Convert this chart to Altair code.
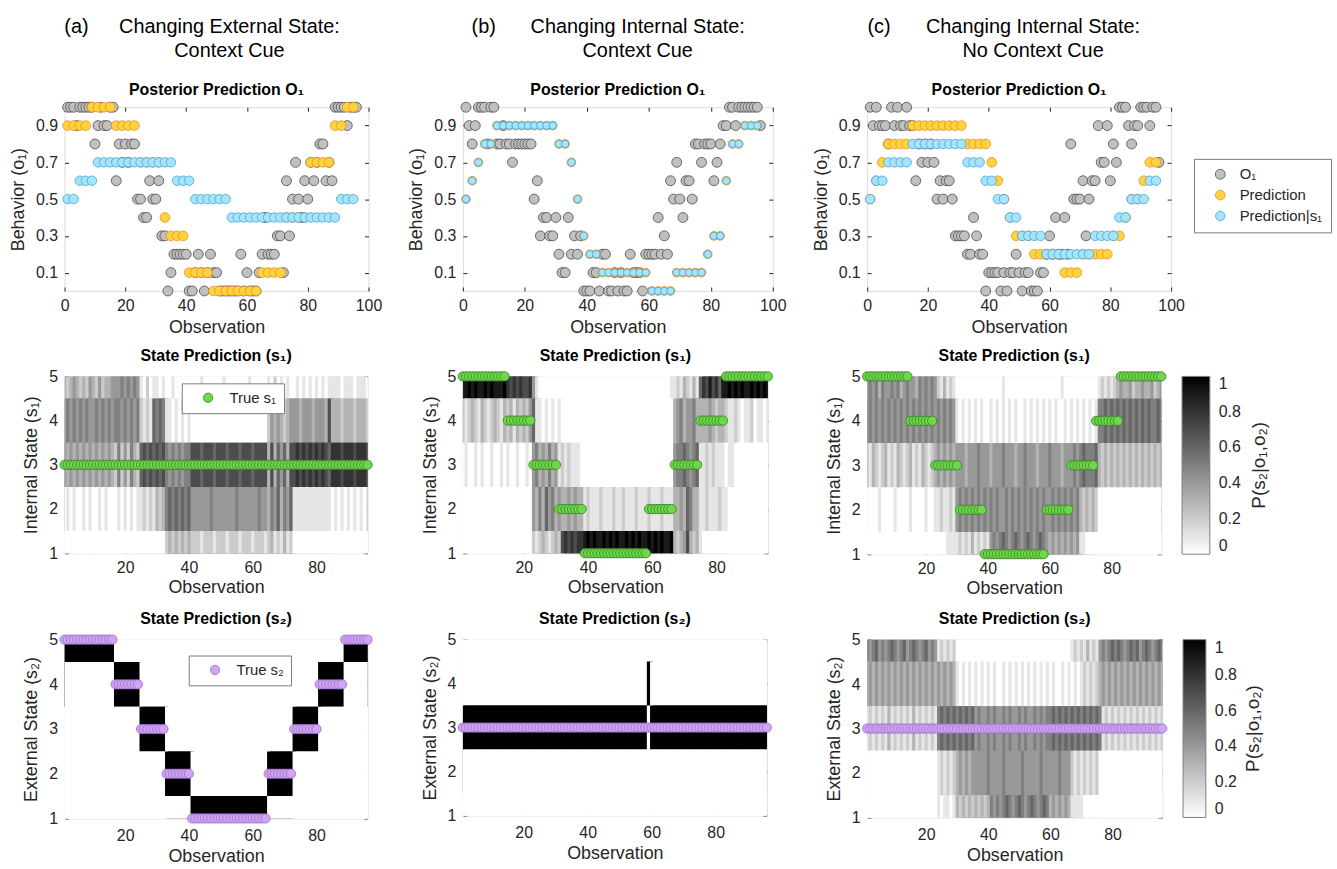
import altair as alt
import pandas as pd

FONT = "Liberation Sans"
INK = "#262626"

OBS = list(range(1, 97))
ODD = list(range(1, 97, 2))

# ---------------- top row: observed behaviour and predictions ----------------
a_o1 = [1.0, 1.0, 1.0, 0.9, 1.0, 1.0, 1.0, 1.0, 1.0, 0.8,
        0.9, 1.0, 0.9, 0.9, 1.0, 1.0, 0.6, 0.8, 0.7, 0.8,
        0.7, 0.8, 0.8, 0.5, 0.5, 0.4, 0.4, 0.6, 0.5, 0.5,
        0.6, 0.3, 0.3, 0.0, 0.1, 0.2, 0.2, 0.2, 0.2, 0.2,
        0.0, 0.0, 0.1, 0.2, 0.1, 0.0, 0.1, 0.2, 0.1, 0.1,
        0.0, 0.0, 0.0, 0.0, 0.0, 0.0, 0.0, 0.2, 0.0, 0.1,
        0.0, 0.0, 0.0, 0.1, 0.2, 0.4, 0.2, 0.2, 0.2, 0.3,
        0.3, 0.1, 0.6, 0.3, 0.5, 0.7, 0.5, 0.4, 0.6, 0.5,
        0.7, 0.6, 0.7, 0.8, 0.8, 0.6, 0.7, 0.6, 1.0, 1.0,
        1.0, 1.0, 0.9, 1.0, 1.0, 1.0]
a_pred = [0.9, 0.9, 0.9, 0.9, 1.0, 1.0, 1.0, 1.0, 0.9, 0.9, 0.9, 0.9,
          0.7, 0.7, 0.7, 0.7, 0.4, 0.3, 0.3, 0.3, 0.1, 0.1, 0.1, 0.1,
          0.0, 0.0, 0.0, 0.0, 0.0, 0.0, 0.0, 0.0, 0.1, 0.1, 0.1, 0.1,
          0.4, 0.4, 0.4, 0.4, 0.7, 0.7, 0.7, 0.7, 0.9, 0.9, 1.0, 1.0]
a_pred_s1 = [0.5, 0.5, 0.6, 0.6, 0.6, 0.7, 0.7, 0.7, 0.7, 0.7, 0.7, 0.7,
             0.7, 0.7, 0.7, 0.7, 0.7, 0.7, 0.6, 0.6, 0.6, 0.5, 0.5, 0.5,
             0.5, 0.5, 0.5, 0.4, 0.4, 0.4, 0.4, 0.4, 0.4, 0.4, 0.4, 0.4,
             0.4, 0.4, 0.4, 0.4, 0.4, 0.4, 0.4, 0.4, 0.4, 0.5, 0.5, 0.5]

b_o1 = [1.0, 0.9, 0.8, 0.9, 1.0, 1.0, 1.0, 0.8, 1.0, 1.0,
        0.8, 0.8, 0.9, 0.8, 0.8, 0.7, 0.8, 0.8, 0.8, 0.8,
        0.8, 0.8, 0.5, 0.6, 0.3, 0.4, 0.4, 0.3, 0.3, 0.4,
        0.2, 0.1, 0.1, 0.4, 0.2, 0.3, 0.2, 0.3, 0.0, 0.0,
        0.0, 0.1, 0.1, 0.0, 0.2, 0.2, 0.0, 0.0, 0.1, 0.0,
        0.1, 0.0, 0.0, 0.2, 0.1, 0.1, 0.1, 0.0, 0.2, 0.2,
        0.2, 0.2, 0.4, 0.2, 0.3, 0.2, 0.6, 0.5, 0.7, 0.5,
        0.4, 0.6, 0.6, 0.5, 0.8, 0.8, 0.7, 0.8, 0.8, 0.8,
        0.6, 0.7, 0.8, 0.9, 0.9, 1.0, 1.0, 0.9, 1.0, 1.0,
        1.0, 1.0, 1.0, 1.0, 1.0, 0.9]
b_pred = [0.5, 0.6, 0.7, 0.8, 0.8, 0.9, 0.9, 0.9, 0.9, 0.9, 0.9, 0.9,
          0.9, 0.9, 0.9, 0.8, 0.8, 0.7, 0.5, 0.3, 0.2, 0.2, 0.1, 0.1,
          0.1, 0.1, 0.1, 0.1, 0.1, 0.1, 0.0, 0.0, 0.0, 0.0, 0.1, 0.1,
          0.1, 0.1, 0.1, 0.2, 0.3, 0.3, 0.6, 0.8, 0.8, 0.9, 0.9, 0.9]
b_pred_s1 = [0.5, 0.6, 0.7, 0.8, 0.8, 0.9, 0.9, 0.9, 0.9, 0.9, 0.9, 0.9,
             0.9, 0.9, 0.9, 0.8, 0.8, 0.7, 0.5, 0.3, 0.2, 0.2, 0.1, 0.1,
             0.1, 0.1, 0.1, 0.1, 0.1, 0.1, 0.0, 0.0, 0.0, 0.0, 0.1, 0.1,
             0.1, 0.1, 0.1, 0.2, 0.3, 0.3, 0.6, 0.8, 0.8, 0.9, 0.9, 0.9]

c_o1 = [1.0, 0.9, 1.0, 0.9, 0.9, 0.9, 0.8, 1.0, 0.9, 1.0,
        0.9, 0.9, 1.0, 0.9, 0.9, 0.6, 0.8, 0.7, 0.8, 0.7,
        0.8, 0.7, 0.5, 0.6, 0.5, 0.6, 0.6, 0.5, 0.3, 0.3,
        0.3, 0.3, 0.2, 0.2, 0.4, 0.3, 0.2, 0.2, 0.0, 0.1,
        0.1, 0.1, 0.1, 0.0, 0.1, 0.0, 0.1, 0.1, 0.2, 0.1,
        0.0, 0.1, 0.1, 0.0, 0.0, 0.0, 0.1, 0.1, 0.2, 0.3,
        0.2, 0.4, 0.2, 0.2, 0.4, 0.2, 0.8, 0.5, 0.5, 0.5,
        0.6, 0.3, 0.5, 0.6, 0.6, 0.9, 0.7, 0.7, 0.9, 0.6,
        0.8, 0.7, 1.0, 1.0, 1.0, 0.9, 0.8, 0.9, 0.9, 1.0,
        1.0, 1.0, 0.9, 1.0, 1.0, 0.7]
c_pred = [0.5, 0.6, 0.7, 0.8, 0.8, 0.8, 0.8, 0.9, 0.9, 0.9, 0.9, 0.9,
          0.9, 0.9, 0.9, 0.9, 0.8, 0.8, 0.8, 0.8, 0.7, 0.6, 0.5, 0.4,
          0.3, 0.3, 0.3, 0.2, 0.2, 0.2, 0.2, 0.2, 0.1, 0.1, 0.1, 0.2,
          0.2, 0.2, 0.2, 0.2, 0.3, 0.3, 0.4, 0.5, 0.5, 0.6, 0.7, 0.7]
c_pred_s1 = [0.5, 0.6, 0.6, 0.7, 0.7, 0.7, 0.7, 0.8, 0.8, 0.8, 0.8, 0.8,
             0.8, 0.8, 0.8, 0.8, 0.7, 0.7, 0.7, 0.6, 0.6, 0.5, 0.5, 0.4,
             0.4, 0.3, 0.3, 0.3, 0.3, 0.2, 0.2, 0.2, 0.2, 0.2, 0.2, 0.2,
             0.2, 0.3, 0.3, 0.3, 0.3, 0.4, 0.4, 0.5, 0.5, 0.5, 0.6, 0.6]

# ---------------- true hidden states (run length, state) ----------------
a_true_s1_runs = [(96, 3)]
a_true_s2_runs = [(16, 5), (8, 4), (8, 3), (8, 2), (24, 1), (8, 2), (8, 3), (8, 4), (8, 5)]
bc_true_s1_runs = [(14, 5), (8, 4), (8, 3), (8, 2), (20, 1), (8, 2), (8, 3), (8, 4), (14, 5)]
bc_true_s2_runs = [(96, 3)]
b_s2_best_runs = [(58, 3), (1, 4), (37, 3)]

# ---------------- posterior heat maps: one char per observation, p x 10 ('a' = 1.0) ----------------
a_s1_heat = {
    5: ["3234323243242334", "44545454", "10201101", "00100000", "0001000000", "1000000010", "0000",
        "10201010", "01010101010", "1", "111011101110"],
    4: ["4545454544545454", "55454545", "21216565", "11010101", "0000000000", "0000000000", "0000",
        "24343234", "44344434443", "7", "333233323332"],
    3: ["4343434343434343", "25242532", "67676767", "54545455", "7776777677", "7677767776", "7777",
        "37364637", "78787878787", "6", "888788878887"],
    2: ["0101001010010100", "01010101", "12121323", "56565656", "4444445444", "4444544444", "4544",
        "35463546", "11111111111", "1", "010101010101"],
    1: ["0000000000000000", "00000000", "00000000", "23232323", "2221222122", "2122212221", "2221",
        "23121312", "00000000000", "0", "000000000000"],
}
b_s1_heat = {
    5: ["99a9a99a9a999a", "87878778", "4", "1000000000", "0000000000", "0000000000", "0000000000", "001",
        "12132131", "68797869", "9a9a9a99a9a9a9"],
    4: ["21232132123213", "23132324", "6", "11010101", "0000000000", "0000000000", "0000000000", "00000",
        "34534453", "33343233", "21121011201101"],
    3: ["0100101001", "0010100100", "10", "45343534", "1212111", "0000000000", "0000000000", "000000000",
        "45565456", "11212111011", "00000000000"],
    2: ["0000000000", "0000000000", "00", "435364534", "3343433", "1211121112", "1121112111", "21112111",
        "33436533", "112111211", "0000000000", "000"],
    1: ["0000000000", "0000000000", "00", "212321232", "7878788", "9a9a99a9a9", "a99a9a9a99", "a9a9a99a",
        "32347323", "1000000000", "0000000000", "00"],
}
c_s1_heat = {
    5: ["4545354454", "5345443545", "454", "213121", "0000000000", "0000010000", "0000000000", "0000100000",
        "000000", "121212", "3433423343", "34234"],
    4: ["4545454545", "4545454545", "454545454", "1010101010", "0101010101", "0010101010", "1010010101",
        "010101", "5565656565", "6565656556", "5"],
    3: ["2132123121", "3212312132", "12", "3434343", "4443444544", "4344454443", "4454443444", "5444344454",
        "565556", "3232323232", "3232323232", "3"],
    2: ["0000100001", "0000100001", "00", "1121121", "4545454545", "4545445454", "5454545454", "4545454545",
        "323232", "0000000000", "0000000000", "0"],
    1: ["0000000000", "0000000000", "000000111", "12121312121", "4545654565", "456545654", "3434343434",
        "1100000000", "0000000000", "0000000"],
}
c_s2_heat = {
    5: ["5456454565", "4564565456", "454", "121212", "0000000000", "0000000000", "0000000000", "0000000",
        "121213121", "4545656545", "6564565456", "5"],
    4: ["3434343434", "3434343434", "343434343", "1010101010", "1010010101", "0101010101", "0100101010",
        "1", "21212", "3434343434", "3434343434", "3"],
    3: ["1212121312", "1212131212", "121", "5656565656", "56", "4544545445", "4544545445", "4545",
        "5656565656", "5656565", "1212121212", "1212121212"],
    2: ["0000000000", "0000000000", "000", "121212", "343434", "4444544445", "4444454444", "4544444544",
        "4", "212121212", "0000000000", "0000000000", "0"],
    1: ["0000000000", "0000000000", "000", "101101", "3232323232", "3", "5454565456", "545654565",
        "3434343", "1111000000", "0000000000", "0000000000"],
}

SERIES = ["O₁", "Prediction", "Prediction|s₁"]
FILLS = ["#c0c0c0", "#ffd43b", "#a9e3f9"]
EDGES = ["#4a4a4a", "#ec8c2c", "#3aa8e0"]
GREEN, GREEN_EDGE = "#6cd94a", "#3f7a2e"
PURPLE, PURPLE_EDGE = "#cfa5f2", "#9a6cc9"
CBAR_TITLE = "P(s₂|o₁,o₂)"

INDEP = dict(x="independent", y="independent", color="independent", fill="independent",
             stroke="independent", size="independent")


def expand(runs):
    out = []
    for n, s in runs:
        out.extend([s] * n)
    return out


def heat_rows(spec):
    rows = {}
    for k, segs in spec.items():
        s = "".join(segs)
        assert len(s) == 96, (k, len(s))
        rows[k] = [int(c, 16) / 10 for c in s]
    return rows


def onehot(states):
    return {k: [1.0 if s == k else 0.0 for s in states] for k in (5, 4, 3, 2, 1)}


def axis(orient, values, title=None, labels=True, fmt=None, label_pad=6, title_pad=4):
    kw = dict(orient=orient, values=values, offset=-4, tickSize=4, tickWidth=1, tickColor=INK,
              domain=False, grid=False, labels=labels, labelColor=INK, labelFontSize=16, labelFont=FONT,
              labelPadding=label_pad, labelFlush=False, titleColor=INK, titleFontSize=18, titleFont=FONT,
              titleFontWeight="normal", titlePadding=title_pad, title=title)
    if fmt:
        kw["format"] = fmt
    return alt.Axis(**kw)


def top_panel(o1, pred, pred_s1, sizes, width, tag, tag_x, header, head_x, legend=None):
    df = pd.DataFrame(
        [{"obs": i, "val": v, "series": SERIES[0]} for i, v in zip(OBS, o1)]
        + [{"obs": i, "val": v, "series": SERIES[1]} for i, v in zip(ODD, pred)]
        + [{"obs": i, "val": v, "series": SERIES[2]} for i, v in zip(ODD, pred_s1)]
    )
    xs = alt.Scale(domain=[0, 100], nice=False, zero=False)
    ys = alt.Scale(domain=[0, 1], nice=False, zero=False)
    pts = alt.Chart(df).mark_circle(opacity=1, strokeWidth=0.8).encode(
        x=alt.X("obs:Q", scale=xs, axis=axis("bottom", [0, 20, 40, 60, 80, 100], "Observation",
                                             label_pad=7, title_pad=5)),
        y=alt.Y("val:Q", scale=ys,
                axis=axis("left", [0.1, 0.3, 0.5, 0.7, 0.9], "Behavior (o₁)", fmt=".1f", label_pad=7, title_pad=8)),
        fill=alt.Fill("series:N", scale=alt.Scale(domain=SERIES, range=FILLS), legend=legend),
        stroke=alt.Stroke("series:N", scale=alt.Scale(domain=SERIES, range=EDGES), legend=legend),
        size=alt.Size("series:N", scale=alt.Scale(domain=SERIES, range=sizes), legend=legend),
    )
    ticks = alt.Chart(df).mark_circle(opacity=0).encode(
        x=alt.X("obs:Q", scale=xs, axis=axis("top", [0, 20, 40, 60, 80, 100], labels=False)),
        y=alt.Y("val:Q", scale=ys, axis=axis("right", [0.1, 0.3, 0.5, 0.7, 0.9], labels=False)),
    )
    lab = pd.DataFrame({"tag": [tag], "head": [header], "ttl": ["Posterior Prediction O₁"]})
    tag_t = alt.Chart(lab).mark_text(font=FONT, fontSize=20, align="center", baseline="alphabetic",
                                     color="black").encode(text="tag:N", x=alt.value(tag_x), y=alt.value(-75))
    head_t = alt.Chart(lab).mark_text(font=FONT, fontSize=20, align="center", baseline="alphabetic",
                                      lineBreak="\n", lineHeight=24, color="black").encode(
        text="head:N", x=alt.value(head_x), y=alt.value(-75))
    ttl_t = alt.Chart(lab).mark_text(font=FONT, fontSize=16, fontWeight="bold", align="center",
                                     baseline="alphabetic", color="black").encode(
        text="ttl:N", x=alt.value(width / 2), y=alt.value(-12))
    return alt.layer(pts, ticks, head_t, tag_t, ttl_t).resolve_axis(
        x="independent", y="independent").properties(width=width, height=185)


def heat_panel(title, ytitle, rows, states, pfill, pedge, plabel, width, height,
               point_legend=None, colorbar=None, cbar_title_x=None, xlab_pad=6):
    hdf = pd.DataFrame([{"obs": i, "state": k, "p": p}
                        for k, row in rows.items() for i, p in zip(OBS, row)])
    xs = alt.Scale(domain=[1, 96], nice=False, zero=False)
    ys = alt.Scale(domain=[1, 5], nice=False, zero=False)
    cs = alt.Scale(domain=[0, 1], range=["#ffffff", "#000000"], interpolate="rgb")
    # each cell shows obs +- 0.5 / state +- 0.5; it is drawn one unit longer to the right and
    # downward, and that extra part is covered by the next cell (drawn later), so no seams show
    heat = alt.Chart(hdf).transform_calculate(
        x0="datum.obs - 0.5", x1="datum.obs + 1.5", y0="datum.state - 1.5", y1="datum.state + 0.5",
        z="(5 - datum.state) * 100 + datum.obs"
    ).mark_rect(clip=True, strokeWidth=0).encode(
        x=alt.X("x0:Q", scale=xs, axis=axis("bottom", [20, 40, 60, 80], "Observation",
                                            label_pad=xlab_pad, title_pad=4)),
        x2="x1:Q",
        y=alt.Y("y0:Q", scale=ys, axis=axis("left", [1, 2, 3, 4, 5], ytitle, label_pad=7, title_pad=8)),
        y2="y1:Q",
        color=alt.Color("p:Q", scale=cs, legend=colorbar),
        order=alt.Order("z:Q"),
    )
    pdf = pd.DataFrame({"obs": OBS, "state": states, "lbl": [plabel] * len(OBS)})
    pts = alt.Chart(pdf).mark_circle(opacity=1, size=88, stroke=pedge, strokeWidth=0.8).encode(
        x=alt.X("obs:Q", scale=xs, axis=None),
        y=alt.Y("state:Q", scale=ys, axis=None),
        fill=alt.Fill("lbl:N", scale=alt.Scale(domain=[plabel], range=[pfill]), legend=point_legend),
    )
    ticks = alt.Chart(pdf).mark_circle(opacity=0).encode(
        x=alt.X("obs:Q", scale=xs, axis=axis("top", [20, 40, 60, 80], labels=False)),
        y=alt.Y("state:Q", scale=ys, axis=axis("right", [1, 2, 3, 4, 5], labels=False)),
    )
    layers = [heat, pts, ticks]
    if cbar_title_x is not None:
        ct = alt.Chart(pd.DataFrame({"t": [CBAR_TITLE]})).mark_text(
            font=FONT, fontSize=19, angle=270, align="center", baseline="middle", color=INK
        ).encode(text="t:N", x=alt.value(cbar_title_x), y=alt.value(height / 2))
        layers.append(ct)
    return alt.layer(*layers).resolve_axis(x="independent", y="independent").properties(
        width=width, height=height,
        title=alt.Title(title, font=FONT, fontSize=16, fontWeight="bold", color="black", offset=5,
                        frame="group", anchor="middle"))


def point_legend(x, y, edge):
    return alt.Legend(title=None, orient="none", legendX=x, legendY=y, fillColor="white",
                      strokeColor="#7a7a7a", padding=7, symbolOffset=12, labelOffset=14,
                      labelFontSize=15, labelFont=FONT, labelColor=INK, symbolSize=88,
                      symbolType="circle", symbolStrokeColor=edge, symbolStrokeWidth=0.8)


def colorbar(length, thick):
    return alt.Legend(title=None, type="gradient", orient="right", offset=20, direction="vertical",
                      gradientLength=length, gradientThickness=thick, gradientStrokeColor="#7f7f7f",
                      gradientStrokeWidth=1, values=[0, 0.2, 0.4, 0.6, 0.8, 1], format="~g",
                      labelFontSize=16, labelFont=FONT, labelColor=INK, labelOffset=9)


top_legend = alt.Legend(title=None, orient="none", legendX=329, legendY=52, fillColor="white",
                        strokeColor="#7a7a7a", padding=8, symbolOffset=11, labelOffset=12,
                        labelFontSize=15, labelFont=FONT, labelColor=INK, rowPadding=5,
                        symbolStrokeWidth=0.8)

top_a = top_panel(a_o1, a_pred, a_pred_s1, [100, 90, 42], 306, "(a)", 12,
                  "Changing External State:\nContext Cue", 166)
top_b = top_panel(b_o1, b_pred, b_pred_s1, [100, 56, 42], 312, "(b)", 21,
                  "Changing Internal State:\nContext Cue", 176)
top_c = top_panel(c_o1, c_pred, c_pred_s1, [100, 90, 42], 306, "(c)", 12,
                  "Changing Internal State:\nNo Context Cue", 167, legend=top_legend)

mid_a = heat_panel("State Prediction (s₁)", "Internal State (s₁)", heat_rows(a_s1_heat),
                   expand(a_true_s1_runs), GREEN, GREEN_EDGE, "True s₁", 305, 178,
                   point_legend=point_legend(118, 7, GREEN_EDGE))
mid_b = heat_panel("State Prediction (s₁)", "Internal State (s₁)", heat_rows(b_s1_heat),
                   expand(bc_true_s1_runs), GREEN, GREEN_EDGE, "True s₁", 307, 178)
mid_c = heat_panel("State Prediction (s₁)", "Internal State (s₁)", heat_rows(c_s1_heat),
                   expand(bc_true_s1_runs), GREEN, GREEN_EDGE, "True s₁", 296, 179,
                   colorbar=colorbar(179, 28), cbar_title_x=395)

bot_a = heat_panel("State Prediction (s₂)", "External State (s₂)", onehot(expand(a_true_s2_runs)),
                   expand(a_true_s2_runs), PURPLE, PURPLE_EDGE, "True s₂", 305, 180,
                   point_legend=point_legend(125, 16, PURPLE_EDGE), xlab_pad=9)
bot_b = heat_panel("State Prediction (s₂)", "External State (s₂)", onehot(expand(b_s2_best_runs)),
                   expand(bc_true_s2_runs), PURPLE, PURPLE_EDGE, "True s₂", 306, 177, xlab_pad=9)
bot_c = heat_panel("State Prediction (s₂)", "External State (s₂)", heat_rows(c_s2_heat),
                   expand(bc_true_s2_runs), PURPLE, PURPLE_EDGE, "True s₂", 297, 179,
                   colorbar=colorbar(179, 23), cbar_title_x=388, xlab_pad=9)

chart = alt.concat(
    top_a, top_b, top_c, mid_a, mid_b, mid_c, bot_a, bot_b, bot_c,
    columns=3, spacing={"row": 86, "column": 95}, bounds="flush", align="each",
).resolve_scale(**INDEP).properties(
    padding={"left": 9, "top": 13, "right": 5, "bottom": 5}, background="white"
).configure_view(stroke=INK, strokeWidth=1).configure(font=FONT)

chart.save("out.html", embed_options={"renderer": "svg", "actions": False})
